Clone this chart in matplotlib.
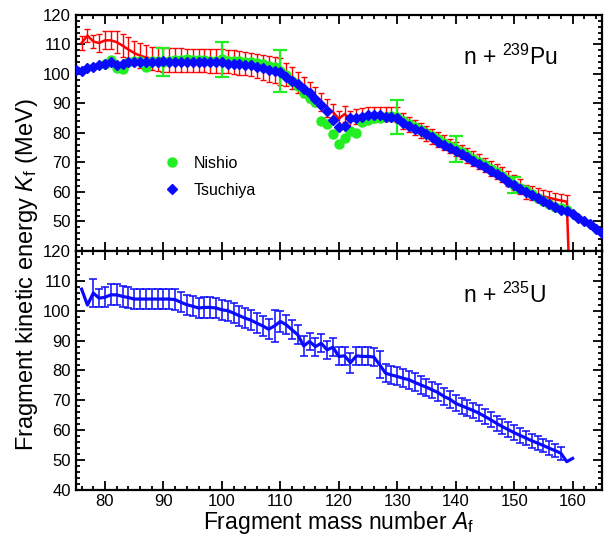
import numpy as np
import matplotlib
matplotlib.use("Agg")
import matplotlib.pyplot as plt
from matplotlib.ticker import MultipleLocator, FixedLocator

plt.rcParams['font.family'] = ['Liberation Sans', 'DejaVu Sans']
plt.rcParams['mathtext.fontset'] = 'custom'
plt.rcParams['mathtext.rm'] = 'Liberation Sans'
plt.rcParams['mathtext.it'] = 'Liberation Sans:italic'

# ---------------- data: n + 239Pu (top panel) ----------------
calc_A = list(range(76, 161))
calc_K = [110.5, 113.0, 111.0, 110.5, 111.4, 111.4, 110.8, 109.6, 108.3, 107.1,
          106.2, 105.6, 105.2, 105.0, 104.8, 104.8, 104.7, 104.7, 104.6, 104.6,
          104.5, 104.5, 104.4, 104.4, 104.3, 104.2, 104.0, 103.8, 103.5, 103.2,
          102.8, 102.3, 101.8, 101.3, 100.8, 99.8, 98.6, 97.2, 95.6, 94.0,
          92.3, 90.5, 88.5, 87.1, 84.8, 86.4, 84.6, 85.5, 86.0, 86.2,
          86.3, 86.4, 86.4, 86.4, 86.2, 84.0, 82.8, 81.8, 80.9, 79.9,
          78.9, 77.8, 76.7, 75.6, 74.6, 73.5, 72.4, 71.3, 70.2, 69.1,
          68.0, 66.9, 65.8, 64.6, 63.3, 61.8, 60.0, 59.5, 59.0, 58.5,
          58.0, 57.5, 57.1, 56.7, 0.0]
calc_err = [2.3, 2.3, 2.3, 3.0, 3.0, 3.0, 3.8, 4.0, 4.2, 4.2,
            4.2, 4.2, 4.0, 4.0, 4.0, 4.0, 4.0, 4.0, 4.0, 4.0,
            4.0, 4.0, 4.0, 4.0, 4.0, 4.0, 4.0, 4.0, 4.0, 4.0,
            4.0, 4.2, 4.4, 4.5, 4.5, 4.0, 3.8, 3.6, 3.5, 3.4,
            3.3, 3.2, 3.0, 2.8, 2.8, 2.8, 2.7, 2.6, 2.5, 2.5,
            2.5, 2.5, 2.5, 2.5, 2.5, 2.6, 2.6, 2.6, 2.6, 2.6,
            2.5, 2.5, 2.5, 2.5, 2.5, 2.5, 2.5, 2.5, 2.5, 2.5,
            2.5, 2.5, 2.5, 2.5, 2.5, 2.5, 2.4, 2.4, 2.4, 2.3,
            2.3, 2.3, 2.3, 2.3, 0.0]

nishio_A = list(range(80, 160))
nishio_K = [103.5, 104.7, 102.0, 101.7, 104.0, 104.5, 104.5, 102.3, 104.5, 104.5,
            104.0, 104.5, 104.8, 104.8, 105.0, 104.8, 104.8, 104.8, 104.5, 104.5,
            105.0, 104.5, 104.5, 104.3, 104.2, 104.0, 103.7, 103.3, 102.8, 102.2,
            101.0, 99.8, 97.5, 95.8, 93.5, 91.8, 90.5, 84.0, 83.0, 79.6,
            76.3, 78.4, 80.7, 79.9, 83.6, 84.3, 85.0, 85.2, 85.5, 85.8,
            85.5, 84.0, 83.0, 82.0, 81.0, 80.0, 79.0, 78.0, 76.5, 75.5,
            74.6, 73.5, 72.5, 71.2, 70.0, 69.0, 67.8, 66.6, 65.5, 64.0,
            62.4, 61.5, 60.5, 59.3, 58.0, 57.0, 56.0, 55.0, 54.5, 54.0]
nishio_err_A = [90, 100, 110, 130, 140, 150]
nishio_err_K = [104.0, 105.0, 101.0, 85.5, 74.6, 62.4]
nishio_err = [4.7, 6.0, 7.0, 5.7, 4.5, 2.8]

tsuchiya_A = list(range(75, 166))
tsuchiya_K = [101.5, 101.0, 102.0, 102.5, 103.0, 103.5, 104.0, 103.0, 103.5, 104.0,
              104.0, 104.0, 104.0, 104.0, 104.0, 104.5, 104.0, 104.0, 104.0, 104.0,
              104.0, 104.0, 104.0, 104.0, 104.0, 104.0, 103.5, 103.5, 103.5, 103.0,
              103.0, 102.5, 102.0, 101.5, 101.0, 100.5, 99.0, 97.5, 96.5, 95.0,
              93.5, 91.5, 89.5, 87.5, 84.5, 82.0, 82.5, 85.0, 85.0, 85.5,
              86.0, 86.0, 86.0, 85.5, 85.5, 85.0, 83.5, 82.5, 81.5, 80.5,
              79.5, 78.5, 77.0, 76.0, 75.0, 74.0, 73.0, 72.0, 70.5, 69.5,
              68.5, 67.0, 66.0, 65.0, 63.5, 62.5, 61.0, 60.0, 59.0, 58.0,
              57.0, 56.0, 55.0, 54.0, 53.5, 52.5, 51.0, 50.0, 49.0, 47.5,
              46.0]

# ---------------- data: n + 235U (bottom panel) ----------------
u_A = list(range(76, 161))
u_K = [107.2, 101.9, 105.9, 104.2, 104.5, 105.3, 105.3, 104.8, 104.4, 103.9,
       103.9, 103.9, 103.9, 103.9, 103.9, 103.9, 103.7, 102.8, 102.0, 101.5,
       100.9, 101.1, 101.1, 100.9, 100.3, 100.0, 99.2, 98.3, 97.5, 96.8,
       95.8, 94.9, 93.8, 94.9, 96.4, 95.3, 93.6, 91.9, 88.2, 89.7,
       88.0, 89.1, 86.9, 87.8, 84.7, 84.9, 82.6, 84.9, 84.7, 84.7,
       84.5, 81.9, 79.1, 78.5, 78.0, 77.4, 76.9, 76.0, 75.2, 74.4,
       73.5, 72.6, 71.3, 70.4, 69.0, 68.2, 67.4, 66.6, 65.7, 64.6,
       63.5, 62.3, 61.2, 60.2, 59.2, 58.3, 57.4, 56.5, 55.7, 54.9,
       54.0, 53.2, 52.3, 49.5, 50.6]
u_err = [0.0, 0.0, 4.6, 3.0, 3.3, 3.5, 3.5, 3.4, 3.4, 3.4,
         3.4, 3.4, 3.4, 3.4, 3.4, 3.4, 3.4, 3.4, 3.4, 3.4,
         3.4, 3.4, 3.4, 3.4, 3.4, 3.4, 3.4, 3.4, 3.4, 3.4,
         3.4, 3.4, 3.4, 5.3, 3.4, 3.2, 3.2, 3.2, 3.2, 3.0,
         3.0, 3.0, 3.0, 3.0, 3.0, 3.0, 3.4, 3.0, 3.0, 3.0,
         3.0, 4.5, 3.0, 3.0, 3.0, 3.0, 3.0, 3.0, 2.9, 2.9,
         2.8, 2.8, 2.8, 2.8, 2.7, 2.7, 2.7, 2.6, 2.6, 2.6,
         2.5, 2.5, 2.5, 2.5, 2.4, 2.4, 2.4, 2.3, 2.3, 2.3,
         2.3, 2.3, 2.2, 0.0, 0.0]

x_ticks = [80, 90, 100, 110, 120, 130, 140, 150, 160]
top_yticks = [50, 60, 70, 80, 90, 100, 110, 120]
bot_yticks = [40, 50, 60, 70, 80, 90, 100, 110, 120]

RED = '#ff0000'
GREEN = '#22ee22'
BLUE = '#0a0aff'

fig = plt.figure(figsize=(6.11, 5.35), dpi=100)
ax1 = fig.add_axes([0.124, 0.531, 0.861, 0.441])
ax2 = fig.add_axes([0.124, 0.084, 0.861, 0.447], sharex=ax1)

def style(ax, yticks):
    ax.set_xlim(75, 165)
    ax.set_ylim(40, 120)
    ax.xaxis.set_major_locator(FixedLocator(x_ticks))
    ax.xaxis.set_minor_locator(MultipleLocator(2))
    ax.yaxis.set_major_locator(FixedLocator(yticks))
    ax.yaxis.set_minor_locator(MultipleLocator(2))
    ax.tick_params(which='both', direction='in', top=True, right=True,
                   width=1.3, labelsize=12, colors='black')
    ax.tick_params(which='major', length=6.5)
    ax.tick_params(which='minor', length=3.2)
    ax.tick_params(axis='x', pad=3)
    for s in ax.spines.values():
        s.set_linewidth(1.6)

# ---- top panel ----
cA = np.array(calc_A)
cK = np.array(calc_K)
cE = np.array(calc_err)
m = cE > 0
ax1.errorbar(cA[m], cK[m], yerr=cE[m], fmt='none', ecolor=RED, elinewidth=1.0,
             capsize=2.5, capthick=1.0, zorder=2)
ax1.plot(cA, cK, color=RED, lw=1.8, zorder=2)

ax1.plot(nishio_A, nishio_K, 'o', color=GREEN, ms=6.5, mec=GREEN, zorder=3,
         label='Nishio')
ax1.errorbar(nishio_err_A, nishio_err_K, yerr=nishio_err, fmt='none',
             ecolor=GREEN, elinewidth=1.6, capsize=5, capthick=1.6, zorder=3)
ax1.plot(tsuchiya_A, tsuchiya_K, 'D', color=BLUE, ms=4.8, mec=BLUE, zorder=4,
         label='Tsuchiya')

style(ax1, top_yticks)
ax1.tick_params(labelbottom=False)
ax1.text(0.826, 0.82, r'n + $^{239}$Pu', transform=ax1.transAxes,
         fontsize=16.5, ha='center', va='center')
ax1.legend(loc='center left', bbox_to_anchor=(0.155, 0.315), frameon=False,
           fontsize=11.5, handlelength=1.0, handletextpad=0.9,
           labelspacing=0.75, borderaxespad=0)

# ---- bottom panel ----
uA = np.array(u_A)
uK = np.array(u_K)
uE = np.array(u_err)
mu = uE > 0
ax2.errorbar(uA[mu], uK[mu], yerr=uE[mu], fmt='none', ecolor=BLUE,
             elinewidth=1.1, capsize=2.8, capthick=1.1, zorder=2)
ax2.plot(uA, uK, color=BLUE, lw=2.3, zorder=3)
style(ax2, bot_yticks)
ax2.text(0.816, 0.815, r'n + $^{235}$U', transform=ax2.transAxes,
         fontsize=16.5, ha='center', va='center')
ax2.set_xlabel(r'Fragment mass number $A_\mathrm{f}$', fontsize=16.5, labelpad=0)

fig.text(0.045, 0.487, r'Fragment kinetic energy $K_\mathrm{f}$ (MeV)',
         rotation=90, fontsize=17, ha='center', va='center')

fig.savefig('out.png', dpi=100)
